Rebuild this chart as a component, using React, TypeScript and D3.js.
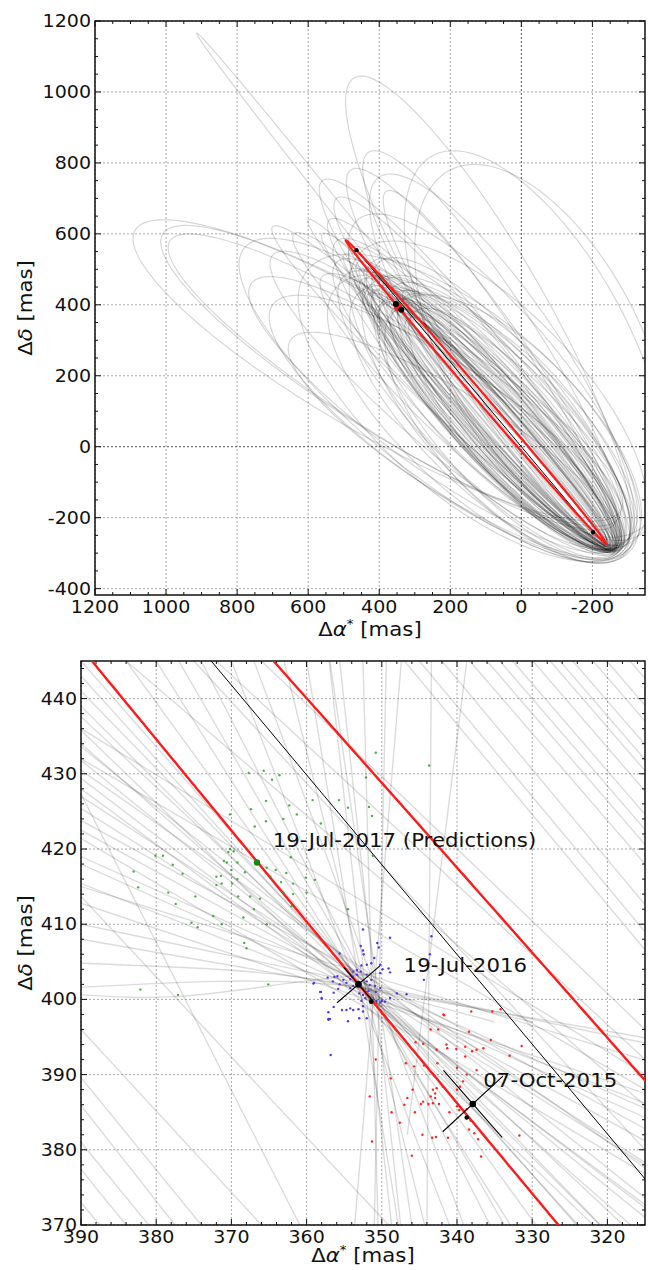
import React from 'react';
import * as d3 from 'd3';

const W = 648, H = 1270;
const FONT = 'DejaVu Sans';
const SX = 1.12;

// ---------- axes ----------
const topXDomain = [1200, -348];
const topYDomain = [-418, 1200];
const botXDomain = [390, 315];
const botYDomain = [370, 445];
const topXTicks = [1200, 1000, 800, 600, 400, 200, 0, -200];
const topYTicks = [-400, -200, 0, 200, 400, 600, 800, 1000, 1200];
const botXTicks = [390, 380, 370, 360, 350, 340, 330, 320];
const botYTicks = [370, 380, 390, 400, 410, 420, 430, 440];

// ---------- orbits (tip A x,y ; tip B x,y ; half width) in mas ----------
const orbitsBand = [
  [-245, -280, 380, 450, 20], [-250, -285, 400, 470, 35], [-255, -285, 420, 490, 50],
  [-260, -290, 360, 430, 60], [-265, -290, 440, 500, 70], [-270, -292, 460, 520, 85],
  [-240, -275, 350, 420, 40], [-235, -270, 390, 460, 25], [-250, -280, 500, 540, 55],
  [-258, -288, 480, 560, 95], [-262, -286, 340, 400, 100], [-268, -290, 380, 470, 120],
  [-275, -295, 420, 520, 140], [-280, -290, 360, 380, 110], [-245, -278, 430, 430, 75],
  [-255, -282, 330, 440, 65], [-250, -275, 450, 470, 90], [-272, -288, 520, 520, 130],
  [-285, -285, 400, 520, 160], [-290, -280, 360, 450, 150], [-248, -282, 470, 470, 30],
  [-242, -276, 410, 480, 15], [-238, -270, 455, 500, 50], [-252, -284, 370, 410, 45],
  [-246, -279, 395, 455, 10], [-264, -287, 345, 415, 80], [-256, -283, 435, 475, 105],
  [-270, -285, 410, 440, 125],
];
const orbitsBandWide = [
  [-280, -300, 380, 420, 180], [-290, -305, 420, 460, 200], [-300, -300, 350, 400, 210],
  [-270, -300, 500, 480, 160], [-285, -295, 460, 430, 190], [-260, -290, 300, 380, 130],
  [-250, -285, 320, 360, 90], [-275, -280, 330, 420, 140], [-265, -280, 390, 400, 115],
  [-255, -290, 440, 450, 100], [-245, -285, 360, 380, 70], [-240, -280, 420, 440, 60],
  [-300, -270, 400, 400, 150], [-262, -284, 480, 500, 75],
];
const orbitsFan = [
  [-260, -300, 560, 600, 60], [-250, -290, 600, 640, 45], [-255, -284, 640, 600, 80],
  [-265, -292, 700, 620, 70], [-270, -286, 560, 480, 110], [-262, -290, 540, 640, 90],
  [-258, -286, 520, 580, 120],
];
const orbitsUpper = [
  [-270, -285, 480, 780, 120], [-280, -280, 430, 830, 130], [-285, -275, 470, 1040, 160],
  [-275, -290, 520, 700, 100], [-290, -270, 400, 760, 170], [-330, -250, 250, 820, 260],
  [-320, -240, 200, 780, 280], [-260, -280, 380, 720, 90], [-265, -285, 560, 750, 110],
  [-300, -260, 460, 640, 190], [-235, -280, 914, 1166, 18],
];
const orbitsLeft = [
  [-280, -180, 1087, 610, 180], [-275, -200, 1009, 600, 165], [-265, -215, 989, 580, 150],
  [-270, -280, 760, 460, 150], [-280, -290, 700, 400, 170], [-275, -290, 650, 300, 140],
  [-265, -295, 700, 540, 130],
];
const orbitsWide = [
  [-300, -290, 520, 450, 220], [-310, -280, 600, 500, 250], [-320, -260, 450, 550, 230],
  [-290, -300, 780, 560, 200],
];
const bestOrbit = [-239, -274, 494, 582, 12.5];
const blackOrbit = [464, 554, -202, -241];

// ---------- zoomed tracks (x1,y1,x2,y2) in mas ----------
const tracksLeft = [
  [390, 445, 324.1, 370], [390, 443, 323.9, 370], [390, 441, 320.9, 370], [390, 439, 321, 370],
  [390, 437.6, 317.9, 370], [390, 435.8, 321.9, 370], [390, 434, 316.9, 370], [390, 433.6, 315, 373.6],
  [390, 431.8, 315, 371], [390, 430.5, 315, 377.6], [390, 429.4, 315, 372.3], [390, 428, 315, 372.7],
  [390, 427, 315, 378.3], [390, 425.4, 315, 378], [390, 423.8, 315, 382.8], [390, 422.5, 315, 381.2],
  [390, 421.4, 315, 376.8], [390, 419, 315, 385.5], [390, 418, 315, 384.3], [390, 415.4, 315, 386.2],
  [390, 415, 315, 391.9], [390, 412.8, 315, 387.5], [390, 410, 315, 394.2], [390, 408, 315, 394.9],
];
const tracksTop = [
  [384, 445, 329.5, 370], [380, 445, 332.9, 370], [377, 445, 333.7, 370], [374, 445, 335.6, 370],
  [370, 445, 341, 370], [367, 445, 339.1, 370], [363, 445, 344.3, 370], [360, 445, 347.8, 370],
  [357, 445, 348.7, 370], [356.9, 445, 346, 370], [355.6, 445, 347.5, 370],
  [352.5, 445, 350.5, 370], [349.4, 445, 351, 370], [347.4, 445, 353.6, 370],
  [343.4, 445, 344, 370], [338.7, 445, 346.6, 382],
];
const tracksRight = [
  [338.3, 445, 315, 418], [336, 445, 315, 420.6], [334.3, 445, 315, 422.6], [332.6, 445, 315, 424.6],
  [329.9, 445, 315, 427.7], [327.6, 445, 315, 430.4], [326.3, 445, 315, 431.9], [324.6, 445, 315, 433.9],
  [321.9, 445, 315, 437], [320.1, 445, 315, 439.1], [317, 445, 315, 442.7], [347, 445, 315, 406.6],
  [345, 445, 315, 409], [342, 445, 315, 412.6], [384, 445, 315, 385.9], [375, 445, 315, 380],
  [390, 436, 315, 390], [390, 432, 315, 388], [372, 445, 315, 392], [366, 445, 315, 396],
];
const tracksLow = [
  [390, 389.6, 374, 370], [390, 385.9, 377.5, 370], [390, 381, 381, 370], [390, 377.4, 384, 370],
  [390, 373, 387.5, 370], [390, 396, 366, 370], [390, 413.7, 349.1, 370], [390, 427.3, 360.9, 370],
];
const tracksCurved = [
  [[390, 401.6], [372, 402.4], [352, 401.5], [330, 397]],
  [[390, 400.6], [377, 400.4], [362, 402.2], [350, 403.5]],
  [[390, 404.8], [372, 404], [355, 402], [335, 397]],
];

// ---------- predicted positions ----------
const greenPts = [
  [367.7, 430.1], [365.7, 430.4], [364.6, 429.2], [363.6, 429.8], [367.4, 425.3], [365.4, 426.4],
  [370.2, 424.6], [365.4, 423.7], [363.1, 424.0], [362.3, 425.8], [361.3, 424.6], [359.2, 426.5],
  [358.1, 423.4], [366.9, 423.0], [370.2, 420.0], [370.4, 419.6], [369.7, 419.7], [371.0, 418.4],
  [370.6, 418.2], [369.2, 418.2], [370.0, 417.2], [368.2, 416.9], [365.3, 417.5], [364.8, 416.3],
  [364.1, 417.2], [363.4, 415.6], [362.7, 416.8], [362.1, 418.9], [361.8, 415.4], [360.1, 416.2],
  [358.9, 415.9], [360.0, 414.2], [361.8, 414.0], [362.0, 412.4], [363.1, 414.2], [371.4, 416.4],
  [372.0, 416.3], [371.3, 415.4], [372.0, 415.2], [369.2, 416.0], [369.9, 415.4], [376.5, 416.7],
  [377.8, 417.9], [379.1, 419.1], [380.1, 419.1], [383.0, 417.0], [382.4, 414.9], [378.4, 414.2],
  [377.4, 412.7], [374.8, 413.7], [375.3, 410.2], [374.5, 409.6], [372.4, 411.1], [371.3, 410.0],
  [368.4, 410.9], [369.1, 413.7], [367.5, 413.7], [366.2, 413.4], [365.3, 410.0], [368.3, 407.5],
  [368.0, 406.8], [367.0, 412.0], [350.8, 432.8], [343.7, 431.1], [352.1, 429.5], [355.7, 426.5],
  [354.5, 425.5], [351.7, 425.6], [351.3, 424.4], [351.2, 419.1], [354.5, 412.0], [382.1, 401.3],
  [377.1, 400.6], [365.1, 402.0],
];
const bluePts = [
  [343.4, 408.4], [343.6, 406.0], [350.6, 407.5], [350.4, 406.9], [352.8, 407.1], [352.5, 406.5],
  [352.4, 406.0], [355.6, 406.1], [351.0, 405.5], [350.2, 404.6], [349.9, 404.0], [349.1, 404.1],
  [348.9, 403.6], [350.2, 403.5], [351.4, 404.8], [352.0, 404.6], [352.7, 404.5], [353.3, 403.9],
  [352.8, 403.7], [352.0, 403.3], [353.3, 403.3], [353.9, 403.0], [354.2, 402.7], [354.7, 402.2],
  [355.1, 402.6], [356.3, 403.0], [356.5, 402.4], [355.9, 403.1], [357.2, 402.9], [355.6, 402.0],
  [355.8, 401.4], [356.4, 400.9], [354.2, 401.5], [353.8, 401.8], [352.0, 402.4], [351.6, 401.9],
  [351.4, 402.6], [350.9, 401.8], [350.8, 401.0], [350.2, 401.5], [351.8, 401.1], [352.5, 400.6],
  [353.0, 400.8], [352.2, 400.2], [352.7, 399.8], [350.0, 399.8], [349.6, 399.7], [350.2, 399.6],
  [350.7, 399.8], [352.5, 399.1], [353.1, 398.7], [353.8, 398.6], [354.2, 398.8], [354.7, 398.6],
  [355.3, 398.6], [356.4, 399.0], [356.9, 397.4], [357.1, 397.3], [354.5, 397.1], [353.0, 397.5],
  [352.0, 397.5], [352.5, 398.4], [348.9, 400.2], [348.0, 400.8], [346.7, 400.7], [344.4, 402.6],
  [346.2, 403.9], [359.0, 402.2], [358.0, 400.2], [358.1, 401.0], [356.8, 392.6], [353.8, 403.7],
  [359.1, 402.1], [358.2, 401.0], [358.0, 400.1], [357.1, 398.3], [357.1, 397.4], [352.5, 409.3],
  [348.9, 408.2],
];
const redPts = [
  [338.1, 398.4], [335.3, 398.4], [334.2, 398.7], [341.7, 397.9], [343.5, 396.0], [342.5, 396.0],
  [338.4, 395.7], [335.5, 394.6], [331.4, 393.8], [333.0, 392.5], [336.5, 393.5], [337.4, 393.3],
  [338.0, 393.1], [338.9, 393.7], [340.1, 393.4], [341.4, 394.0], [341.3, 393.5], [342.7, 393.3],
  [344.5, 394.1], [345.5, 394.3], [350.8, 392.0], [346.8, 391.5], [345.7, 391.1], [344.4, 391.2],
  [342.6, 391.5], [340.0, 390.9], [338.9, 392.4], [337.4, 390.6], [338.7, 390.0], [339.2, 389.1],
  [339.6, 388.4], [340.0, 388.0], [341.9, 388.4], [342.7, 388.2], [343.2, 388.0], [342.9, 387.5],
  [343.5, 387.1], [342.9, 386.9], [344.5, 386.4], [343.8, 386.1], [345.9, 388.0], [346.6, 386.9],
  [347.0, 386.0], [348.8, 389.5], [351.6, 387.1], [348.7, 385.0], [347.6, 383.6], [345.6, 385.0],
  [344.8, 386.1], [343.2, 386.2], [342.4, 386.1], [341.0, 385.0], [340.0, 385.8], [339.7, 385.3],
  [338.7, 385.4], [338.2, 383.9], [337.7, 382.2], [337.2, 381.4], [336.8, 379.1], [338.4, 382.7],
  [341.2, 381.6], [343.3, 381.6], [342.8, 381.7], [344.6, 382.0], [346.0, 379.2], [351.3, 381.1],
  [331.7, 381.9], [341.8, 398.0],
];

// ---------- observations ----------
const obsPts = [[353.1, 402.0], [337.9, 386.1]];
const modelPts = [[351.4, 399.7], [338.7, 384.3]];
const predPt = [366.6, 418.2];
const errArms = [
  [355.95, 399.55, 350.25, 404.45], [355.05, 404.25, 351.15, 399.75],
  [341.8, 390.55, 334.0, 381.65], [341.9, 382.4, 333.9, 389.8],
];
const topMarkers = [[464, 554], [-202, -241]];
const labels = [
  { text: '19-Jul-2017 (Predictions)', x: 364.5, y: 420.2 },
  { text: '19-Jul-2016', x: 347.1, y: 403.6 },
  { text: '07-Oct-2015', x: 336.5, y: 388.4 },
];

function ellipsePts(o: number[], n = 720) {
  const [ax, ay, bx, by, b] = o;
  const cx = (ax + bx) / 2, cy = (ay + by) / 2;
  const dx = bx - ax, dy = by - ay;
  const len = Math.hypot(dx, dy);
  const a = len / 2;
  const ux = dx / len, uy = dy / len;
  const vx = -uy, vy = ux;
  const pts: [number, number][] = [];
  for (let i = 0; i < n; i++) {
    const t = (i / n) * 2 * Math.PI;
    const c = Math.cos(t), s = Math.sin(t);
    pts.push([cx + a * c * ux + b * s * vx, cy + a * c * uy + b * s * vy]);
  }
  return pts;
}

function Txt({ x, y, anchor = 'middle', size = 17, rotate = 0, children }: any) {
  return (
    <text transform={`translate(${x},${y}) rotate(${rotate}) scale(${SX},1)`} textAnchor={anchor}
      fontSize={size} fontFamily={FONT} fill="#111">{children}</text>
  );
}

function Frame({ box, xs, ys, xTicks, yTicks, xMinor, yMinor, zeroLines }: any) {
  const els: any[] = [];
  xTicks.forEach((t: number, i: number) => {
    const x = xs(t);
    els.push(<line key={'gx' + i} x1={x} x2={x} y1={box.t} y2={box.b} stroke={zeroLines && t === 0 ? '#555' : '#a8a8a8'} strokeDasharray="2,2" strokeWidth={1} />);
  });
  yTicks.forEach((t: number, i: number) => {
    const y = ys(t);
    els.push(<line key={'gy' + i} x1={box.l} x2={box.r} y1={y} y2={y} stroke={zeroLines && t === 0 ? '#555' : '#a8a8a8'} strokeDasharray="2,2" strokeWidth={1} />);
  });
  const tick = (k: string, x1: number, y1: number, x2: number, y2: number) =>
    els.push(<line key={k} x1={x1} y1={y1} x2={x2} y2={y2} stroke="#111" strokeWidth={1} />);
  xMinor.forEach((t: number, i: number) => {
    const x = xs(t);
    const L = xTicks.includes(t) ? 6 : 3;
    tick('xb' + i, x, box.b, x, box.b - L);
    tick('xt' + i, x, box.t, x, box.t + L);
  });
  yMinor.forEach((t: number, i: number) => {
    const y = ys(t);
    const L = yTicks.includes(t) ? 6 : 3;
    tick('yl' + i, box.l, y, box.l + L, y);
    tick('yr' + i, box.r, y, box.r - L, y);
  });
  els.push(<rect key="frame" x={box.l} y={box.t} width={box.r - box.l} height={box.b - box.t} fill="none" stroke="#111" strokeWidth={1.5} />);
  xTicks.forEach((t: number, i: number) => {
    els.push(<Txt key={'lx' + i} x={xs(t)} y={box.b + 18} size={17}>{String(t)}</Txt>);
  });
  yTicks.forEach((t: number, i: number) => {
    els.push(<Txt key={'ly' + i} x={box.l - 4} y={ys(t) + 6} size={17} anchor="end">{String(t)}</Txt>);
  });
  return <g>{els}</g>;
}

function AxisLabels({ box, xBase }: any) {
  const cx = (box.l + box.r) / 2;
  const cy = (box.t + box.b) / 2;
  return (
    <g>
      <Txt x={cx} y={xBase} size={19}>
        <tspan>Δ</tspan><tspan fontStyle="italic">α</tspan><tspan dy={-8} fontSize={12}>*</tspan><tspan dy={8}> [mas]</tspan>
      </Txt>
      <Txt x={32} y={cy} size={19} rotate={-90}>
        <tspan>Δ</tspan><tspan fontStyle="italic">δ</tspan><tspan> [mas]</tspan>
      </Txt>
    </g>
  );
}

export default function App() {
  const topBox = { l: 95, r: 645, t: 21, b: 595 };
  const botBox = { l: 81, r: 645, t: 661, b: 1225 };
  const tx = d3.scaleLinear().domain(topXDomain).range([topBox.l, topBox.r]);
  const ty = d3.scaleLinear().domain(topYDomain).range([topBox.b, topBox.t]);
  const bx = d3.scaleLinear().domain(botXDomain).range([botBox.l, botBox.r]);
  const by = d3.scaleLinear().domain(botYDomain).range([botBox.b, botBox.t]);

  const topLine = d3.line<any>().x((d) => tx(d[0])).y((d) => ty(d[1])).curve(d3.curveLinearClosed);
  const botLineClosed = d3.line<any>().x((d) => bx(d[0])).y((d) => by(d[1])).curve(d3.curveLinearClosed);
  const botCurve = d3.line<any>().x((d) => bx(d[0])).y((d) => by(d[1])).curve(d3.curveNatural);

  const allOrbits = [...orbitsBand, ...orbitsBandWide, ...orbitsFan, ...orbitsUpper, ...orbitsLeft, ...orbitsWide];
  const allTracks = [...tracksLeft, ...tracksTop, ...tracksRight, ...tracksLow];

  const topXMinor = d3.range(-300, 1201, 50);
  const topYMinor = d3.range(-400, 1201, 50);
  const botXMinor = d3.range(316, 391, 2);
  const botYMinor = d3.range(370, 446, 2);

  return (
    <svg width={W} height={H} style={{ position: 'absolute', left: 0, top: 0, background: '#fff' }}>
      <defs>
        <clipPath id="clipTop"><rect x={topBox.l} y={topBox.t} width={topBox.r - topBox.l} height={topBox.b - topBox.t} /></clipPath>
        <clipPath id="clipBot"><rect x={botBox.l} y={botBox.t} width={botBox.r - botBox.l} height={botBox.b - botBox.t} /></clipPath>
      </defs>
      <rect x={0} y={0} width={W} height={H} fill="#fff" />

      {/* ---------- top panel ---------- */}
      <Frame box={topBox} xs={tx} ys={ty} xTicks={topXTicks} yTicks={topYTicks} xMinor={topXMinor} yMinor={topYMinor} zeroLines />
      <g clipPath="url(#clipTop)">
        {allOrbits.map((o, i) => (
          <path key={'o' + i} d={topLine(ellipsePts(o, 240)) || ''} fill="none" stroke="#000" strokeOpacity={0.16} strokeWidth={1.2} />
        ))}
        <line x1={tx(blackOrbit[0])} y1={ty(blackOrbit[1])} x2={tx(blackOrbit[2])} y2={ty(blackOrbit[3])} stroke="#000" strokeWidth={1} />
        <path d={topLine(ellipsePts(bestOrbit)) || ''} fill="none" stroke="#ff1a1a" strokeWidth={2.2} />
        <circle cx={tx(347)} cy={ty(393)} r={4} fill="#ff1a1a" />
        {obsPts.map((p, i) => (
          <circle key={'to' + i} cx={tx(p[0])} cy={ty(p[1])} r={3} fill="#000" />
        ))}
        {topMarkers.map((p, i) => (
          <circle key={'tm' + i} cx={tx(p[0])} cy={ty(p[1])} r={2.2} fill="#000" />
        ))}
      </g>
      <AxisLabels box={topBox} xBase={636} />

      {/* ---------- bottom panel ---------- */}
      <Frame box={botBox} xs={bx} ys={by} xTicks={botXTicks} yTicks={botYTicks} xMinor={botXMinor} yMinor={botYMinor} />
      <g clipPath="url(#clipBot)">
        {allTracks.map((t, i) => (
          <line key={'tr' + i} x1={bx(t[0])} y1={by(t[1])} x2={bx(t[2])} y2={by(t[3])} stroke="#000" strokeOpacity={0.14} strokeWidth={1.4} />
        ))}
        {tracksCurved.map((c, i) => (
          <path key={'tc' + i} d={botCurve(c as any) || ''} fill="none" stroke="#000" strokeOpacity={0.14} strokeWidth={1.4} />
        ))}
        <line x1={bx(blackOrbit[0])} y1={by(blackOrbit[1])} x2={bx(blackOrbit[2])} y2={by(blackOrbit[3])} stroke="#000" strokeWidth={1} />
        <path d={botLineClosed(ellipsePts(bestOrbit, 4000)) || ''} fill="none" stroke="#ff1a1a" strokeWidth={2.4} />
        {greenPts.map((p, i) => (
          <circle key={'g' + i} cx={bx(p[0])} cy={by(p[1])} r={1.2} fill="#2e9e2e" fillOpacity={0.85} />
        ))}
        {bluePts.map((p, i) => (
          <circle key={'b' + i} cx={bx(p[0])} cy={by(p[1])} r={1.2} fill="#5a32e8" />
        ))}
        {redPts.map((p, i) => (
          <circle key={'r' + i} cx={bx(p[0])} cy={by(p[1])} r={1.2} fill="#ff2020" />
        ))}
        <circle cx={bx(predPt[0])} cy={by(predPt[1])} r={3.2} fill="#118811" />
        {errArms.map((a, i) => (
          <line key={'e' + i} x1={bx(a[0])} y1={by(a[1])} x2={bx(a[2])} y2={by(a[3])} stroke="#000" strokeWidth={1.1} />
        ))}
        {obsPts.map((p, i) => (
          <circle key={'bo' + i} cx={bx(p[0])} cy={by(p[1])} r={3.3} fill="#000" />
        ))}
        {modelPts.map((p, i) => (
          <circle key={'bm' + i} cx={bx(p[0])} cy={by(p[1])} r={2.3} fill="#000" />
        ))}
        {labels.map((l, i) => (
          <Txt key={'lab' + i} x={bx(l.x)} y={by(l.y)} size={19} anchor="start">{l.text}</Txt>
        ))}
      </g>
      <AxisLabels box={botBox} xBase={1262} />
    </svg>
  );
}
